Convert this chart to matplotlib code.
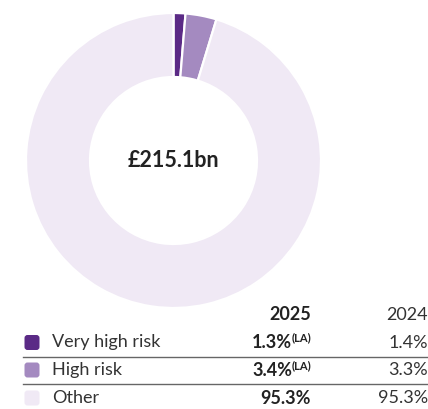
import matplotlib.pyplot as plt
from matplotlib.patches import FancyBboxPatch

plt.rcParams['font.family'] = ['Lato', 'DejaVu Sans']

# dados
categorias = ['Very high risk', 'High risk', 'Other']
valores_2025 = [1.3, 3.4, 95.3]
valores_2024 = [1.4, 3.3, 95.3]
notas_2025 = ['(LA)', '(LA)', '']
anos = ['2025', '2024']
total = '£215.1bn'
cores = ['#5b2a86', '#a48ac0', '#f0e9f5']

W, H = 428, 409
fig = plt.figure(figsize=(W / 100, H / 100), dpi=100)

# rosca
cx, cy, r = 173.5, 160.5, 147.5
ax = fig.add_axes([(cx - r) / W, 1 - (cy + r) / H, 2 * r / W, 2 * r / H])
ax.pie(valores_2025, colors=cores, startangle=90, counterclock=False,
       wedgeprops=dict(width=0.434, edgecolor='white', linewidth=1.6))
ax.set_xlim(-1, 1)
ax.set_ylim(-1, 1)
ax.set_aspect('equal')
ax.axis('off')
ax.text(0, 0, total, ha='center', va='center', fontsize=15.5, fontweight='bold',
        color='#222222')

# tabela
tb = fig.add_axes([0, 0, 1, 1])
tb.set_xlim(0, W)
tb.set_ylim(H, 0)
tb.axis('off')

x25, x24 = 311, 428
tb.text(x25, 315, anos[0], ha='right', va='center', fontsize=13,
        fontweight='bold', color='#222222')
tb.text(x24, 315, anos[1], ha='right', va='center', fontsize=13,
        color='#333333')

linhas_y = [342.5, 370, 398]
for i, y in enumerate(linhas_y):
    tb.add_patch(FancyBboxPatch((24.5, y - 7.5), 15, 15,
                                boxstyle='round,pad=0,rounding_size=3',
                                facecolor=cores[i], edgecolor='none'))
    tb.text(52, y, categorias[i], ha='left', va='center', fontsize=13,
            color='#333333')
    if notas_2025[i]:
        tb.text(x25, y - 4.5, notas_2025[i], ha='right', va='center',
                fontsize=8, fontweight='bold', color='#222222')
        tb.text(x25 - 19, y, f'{valores_2025[i]:.1f}%', ha='right',
                va='center', fontsize=13, fontweight='bold', color='#222222')
    else:
        tb.text(x25, y, f'{valores_2025[i]:.1f}%', ha='right', va='center',
                fontsize=13, fontweight='bold', color='#222222')
    tb.text(x24, y, f'{valores_2024[i]:.1f}%', ha='right', va='center',
            fontsize=13, color='#333333')

for y in [356.5, 383.5]:
    tb.plot([23, 428], [y, y], color='#666666', lw=1)

fig.savefig('out.png', dpi=100)
